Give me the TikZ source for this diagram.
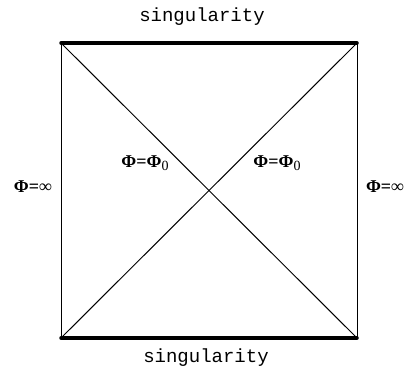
\documentclass[tikz,border=0pt]{standalone}
\usepackage{fontspec}
\setmainfont{Liberation Serif}
\setmonofont{Liberation Mono}
\begin{document}
\begin{tikzpicture}[x=1pt,y=-1pt,
  lbl/.style={font=\ttfamily\fontsize{19}{19}\selectfont,inner sep=0pt},
  phi/.style={font=\bfseries\fontsize{18}{18}\selectfont,inner sep=0pt},
  edge/.style={line width=1pt},
  sing/.style={line width=3.5pt,line cap=round}]
\useasboundingbox (0,0) rectangle (406,368);
\coordinate (tl) at (61,43);
\coordinate (tr) at (357,43);
\coordinate (bl) at (61,338);
\coordinate (br) at (357,338);
\draw[edge] (tl) -- (bl);
\draw[edge] (tr) -- (br);
\draw[edge] (tl) -- (br);
\draw[edge] (tr) -- (bl);
\draw[sing] (tl) -- (tr);
\draw[sing] (bl) -- (br);
\node[lbl] (top) at (202,17) {singularity};
\node[lbl] (bot) at (206,358) {singularity};
\node[phi] (left) at (33,187) {Φ=∞};
\node[phi] (right) at (385,187) {Φ=∞};
\node[phi] (c1) at (145,163) {Φ=Φ\raisebox{-0.3ex}{\mdseries\fontsize{14}{14}\selectfont 0}};
\node[phi] (c2) at (277,163) {Φ=Φ\raisebox{-0.3ex}{\mdseries\fontsize{14}{14}\selectfont 0}};
\end{tikzpicture}
\end{document}
